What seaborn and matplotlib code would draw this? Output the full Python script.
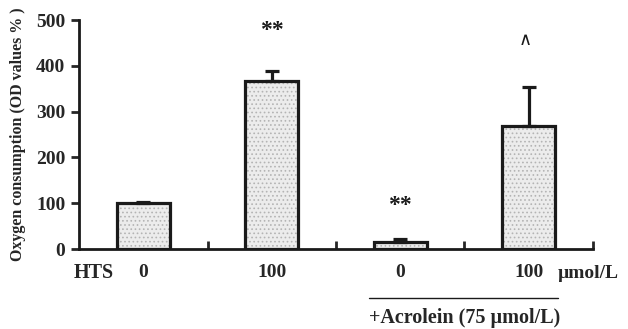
import matplotlib
matplotlib.use("Agg")
import matplotlib.pyplot as plt
import matplotlib.transforms as mtransforms
import seaborn as sns
import pandas as pd

# values
groups = ["HTS 0", "HTS 100", "Acrolein + HTS 0", "Acrolein + HTS 100"]
tick_labels = ["0", "100", "0", "100"]
oxygen = [100, 367, 15, 268]
sem = [2, 22, 6, 86]
marks = ["", "**", "**", "^"]
mark_y = [0, 478, 95, 456]

df = pd.DataFrame({"group": groups, "oxygen": oxygen})

sns.set_style("ticks")
plt.rcParams["font.family"] = ["Liberation Serif", "DejaVu Serif"]
plt.rcParams["hatch.linewidth"] = 0.7

fig = plt.figure(figsize=(6.28, 3.29), dpi=100)
ax = fig.add_axes([0.126, 0.243, 0.818, 0.696])

# dotted grey fill, then black outline on top
sns.barplot(data=df, x="group", y="oxygen", color="#ececec", edgecolor="#b4b4b4",
            hatch="....", linewidth=0, width=0.41, errorbar=None, ax=ax)
sns.barplot(data=df, x="group", y="oxygen", fill=False, edgecolor="#1a1a1a",
            linewidth=2.3, width=0.41, errorbar=None, ax=ax)

# one-sided error bars
ax.errorbar(range(len(groups)), oxygen, yerr=[[0] * len(sem), sem], fmt="none",
            ecolor="#1a1a1a", elinewidth=2.3, capsize=5, capthick=2.3, zorder=1)

for i, m in enumerate(marks):
    if m == "**":
        ax.text(i, mark_y[i], m, ha="center", va="center", fontsize=17,
                fontweight="bold", color="#1a1a1a")
    elif m:
        ax.text(i - 0.03, mark_y[i], "\u2227", ha="center", va="center", fontsize=13,
                family="DejaVu Sans", color="#1a1a1a")

ax.set_xlim(-0.5, 3.5)
ax.set_ylim(0, 500)
ax.set_yticks(range(0, 501, 100))
ax.set_xticks(range(len(groups)))
ax.set_xticklabels(tick_labels)
ax.set_xticks([0.5, 1.5, 2.5, 3.5], minor=True)
ax.set_xlabel("")
ax.set_ylabel("Oxygen consumption (OD values % )", fontsize=11.5, fontweight="bold",
              labelpad=7)

ax.tick_params(axis="y", length=6, width=2, labelsize=14, pad=4)
ax.tick_params(axis="x", which="major", length=0, labelsize=14, pad=11)
ax.tick_params(axis="x", which="minor", direction="in", length=6, width=2)
for lab in ax.get_xticklabels() + ax.get_yticklabels():
    lab.set_fontweight("bold")

sns.despine(ax=ax)
for s in ["left", "bottom"]:
    ax.spines[s].set_linewidth(2)
    ax.spines[s].set_color("#1a1a1a")

trans = mtransforms.blended_transform_factory(ax.transData, ax.transAxes)
ax.text(-0.39, -0.105, "HTS", transform=trans, ha="center", va="center",
        fontsize=14.5, fontweight="bold")
ax.text(3.46, -0.105, "\u00b5mol/L", transform=trans, ha="center", va="center",
        fontsize=14, fontweight="bold")
ax.plot([1.76, 3.23], [-0.214, -0.214], transform=trans, color="#1a1a1a",
        linewidth=1, clip_on=False)
ax.text(2.5, -0.3, "+Acrolein (75 \u00b5mol/L)", transform=trans, ha="center",
        va="center", fontsize=14.5, fontweight="bold")

fig.savefig("out.png", dpi=100)
